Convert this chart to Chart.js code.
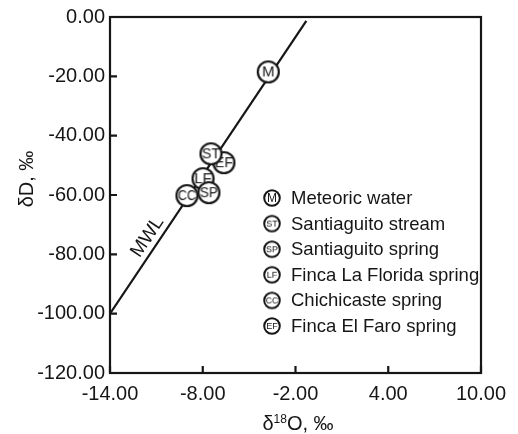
<!DOCTYPE html>
<html>
<head>
<meta charset="utf-8">
<script src="https://cdn.jsdelivr.net/npm/chart.js@4"></script>
<style>
  html, body { margin: 0; padding: 0; background: #fff; }
  #wrap { width: 518px; height: 434px; }
</style>
</head>
<body>
<div id="wrap"><canvas id="chart" width="518" height="434"></canvas></div>
<script>
// Данные: δ18O и δD для каждой точки отбора
const seriesNames = ['Meteoric water', 'Santiaguito stream', 'Santiaguito spring', 'Finca La Florida spring', 'Chichicaste spring', 'Finca El Faro spring'];
const seriesCodes = ['M', 'ST', 'SP', 'LF', 'CC', 'EF'];
const seriesX = [-3.76, -7.47, -7.6, -7.98, -9.02, -6.63];
const seriesY = [-18.5, -46.1, -59.2, -54.5, -60.2, -49.1];

// Линия MWL (концы отрезка)
const mwlX = [-14, -1.3];
const mwlY = [-100, -1.3];

// Подписи осей
const xTicks = [-14, -8, -2, 4, 10];
const yTicks = [0, -20, -40, -60, -80, -100, -120];

const INK = '#161616';
const FONT = '"Liberation Sans", Arial, Helvetica, sans-serif';

// Рисуем кружок с буквами внутри (маркер точки)
function makeMarker(code, r, fontPx, lw) {
  const c = document.createElement('canvas');
  const size = Math.ceil(r * 2 + 4);
  c.width = size; c.height = size;
  const g = c.getContext('2d');
  g.beginPath();
  g.arc(size / 2, size / 2, r, 0, Math.PI * 2);
  g.fillStyle = '#fff';
  g.fill();
  g.lineWidth = lw;
  g.strokeStyle = INK;
  g.stroke();
  g.fillStyle = INK;
  g.font = fontPx + 'px ' + FONT;
  g.textAlign = 'center';
  g.textBaseline = 'middle';
  g.fillText(code, size / 2, size / 2 + 0.5, r * 2 - 3);
  return c;
}

const plotMarkers = seriesCodes.map(c => makeMarker(c, 10.5, c === 'M' ? 15 : 15, 2.2));
const legendMarkers = seriesCodes.map(c => makeMarker(c, 7.8, c === 'M' ? 12 : 9, 2));

const datasets = seriesNames.map((name, i) => ({
  label: name,
  data: [{ x: seriesX[i], y: seriesY[i] }],
  pointStyle: plotMarkers[i],
  order: 0
}));
datasets.push({
  label: 'MWL',
  type: 'line',
  data: mwlX.map((x, i) => ({ x, y: mwlY[i] })),
  borderColor: INK,
  borderWidth: 2.2,
  pointRadius: 0,
  fill: false,
  order: 1
});

// Плагин: рамка, внутренние засечки, легенда, подписи осей и MWL
const decorPlugin = {
  id: 'decor',
  afterDraw(chart) {
    const ctx = chart.ctx;
    const a = chart.chartArea;
    const xs = chart.scales.x, ys = chart.scales.y;
    ctx.save();
    ctx.strokeStyle = INK;
    ctx.lineWidth = 2.2;
    ctx.strokeRect(a.left, a.top, a.right - a.left, a.bottom - a.top);

    // засечки внутрь
    ctx.beginPath();
    xs.ticks.forEach(t => {
      const px = xs.getPixelForValue(t.value);
      ctx.moveTo(px, a.bottom);
      ctx.lineTo(px, a.bottom - 7);
    });
    ys.ticks.forEach(t => {
      const py = ys.getPixelForValue(t.value);
      ctx.moveTo(a.left, py);
      ctx.lineTo(a.left + 7, py);
    });
    ctx.stroke();

    // подпись MWL вдоль линии
    const x0 = xs.getPixelForValue(mwlX[0]), y0 = ys.getPixelForValue(mwlY[0]);
    const x1 = xs.getPixelForValue(mwlX[1]), y1 = ys.getPixelForValue(mwlY[1]);
    const ang = Math.atan2(y1 - y0, x1 - x0);
    const t = 0.24;
    const lx = x0 + (x1 - x0) * t, ly = y0 + (y1 - y0) * t;
    ctx.translate(lx, ly);
    ctx.rotate(ang);
    ctx.fillStyle = INK;
    ctx.font = '19px ' + FONT;
    ctx.textAlign = 'center';
    ctx.textBaseline = 'bottom';
    ctx.fillText('MWL', 0, -2);
    ctx.setTransform(1, 0, 0, 1, 0, 0);
    ctx.restore();

    // легенда внутри области графика
    ctx.save();
    ctx.fillStyle = INK;
    ctx.font = '18.5px ' + FONT;
    ctx.textAlign = 'left';
    ctx.textBaseline = 'middle';
    const legX = a.left + 162, legY = a.top + 181, step = 25.6;
    seriesNames.forEach((name, i) => {
      const m = legendMarkers[i];
      const cy = legY + i * step;
      ctx.drawImage(m, legX - m.width / 2, cy - m.height / 2);
      ctx.fillText(name, legX + 19, cy + 1);
    });
    ctx.restore();

    // подписи осей
    ctx.save();
    ctx.fillStyle = INK;
    ctx.font = '20px ' + FONT;
    ctx.textBaseline = 'alphabetic';
    // δ18O, ‰ со степенным индексом
    const partA = 'δ', partSup = '18', partB = 'O, ‰';
    const wA = ctx.measureText(partA).width;
    const wB = ctx.measureText(partB).width;
    ctx.font = '12px ' + FONT;
    const wS = ctx.measureText(partSup).width;
    let sx = 298 - (wA + wS + wB) / 2;
    const base = 430;
    ctx.font = '20px ' + FONT;
    ctx.textAlign = 'left';
    ctx.fillText(partA, sx, base);
    sx += wA;
    ctx.font = '12px ' + FONT;
    ctx.fillText(partSup, sx, base - 7);
    sx += wS;
    ctx.font = '20px ' + FONT;
    ctx.fillText(partB, sx, base);
    // δD, ‰
    ctx.translate(a.left - 77, a.top + 162);
    ctx.rotate(-Math.PI / 2);
    ctx.textAlign = 'center';
    ctx.fillText('δD, ‰', 0, 0);
    ctx.restore();
  }
};

new Chart(document.getElementById('chart'), {
  type: 'scatter',
  data: { datasets },
  options: {
    responsive: false,
    animation: false,
    events: [],
    layout: { padding: { left: 0, top: 16, right: 37, bottom: 0 } },
    plugins: { legend: { display: false }, tooltip: { enabled: false } },
    scales: {
      x: {
        type: 'linear',
        min: -14, max: 10,
        afterBuildTicks: s => { s.ticks = xTicks.map(v => ({ value: v })); },
        afterFit: s => { s.height = 61; },
        grid: { display: false, drawTicks: false },
        border: { display: false },
        ticks: {
          color: INK, padding: 9,
          font: { family: FONT, size: 20 },
          maxRotation: 0, autoSkip: false,
          callback: v => v.toFixed(2)
        }
      },
      y: {
        type: 'linear',
        min: -120, max: 0,
        afterBuildTicks: s => { s.ticks = yTicks.map(v => ({ value: v })); },
        afterFit: s => { s.width = 110; },
        grid: { display: false, drawTicks: false },
        border: { display: false },
        ticks: {
          color: INK, padding: 5,
          font: { family: FONT, size: 20 },
          autoSkip: false,
          callback: v => v.toFixed(2)
        }
      }
    }
  },
  plugins: [decorPlugin]
});
</script>
</body>
</html>
